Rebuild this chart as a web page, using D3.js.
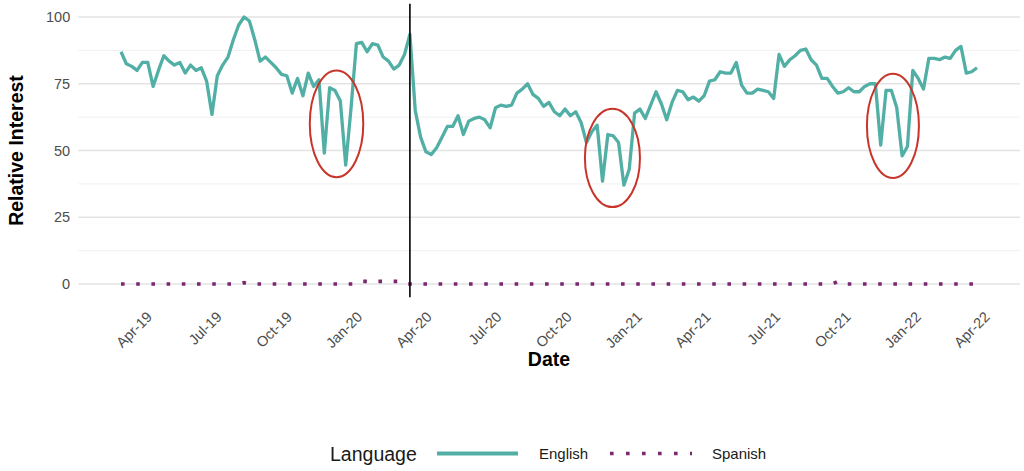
<!DOCTYPE html>
<html>
<head>
<meta charset="utf-8">
<script src="https://cdn.jsdelivr.net/npm/d3@7"></script>
<style>
  html, body { margin: 0; padding: 0; background: #fff; }
  svg { display: block; font-family: "Liberation Sans", Arial, sans-serif; }
</style>
</head>
<body>
<svg id="chart" width="1024" height="471"></svg>
<script>
// ---------------- data ----------------
const weekStart = "2019-03-03";
const weekEnd = "2022-03-27";

const english = [
  87, 82.5, 81.5, 80, 83, 83, 74, 80, 85.5, 83.5,
  82, 83, 79, 82, 80, 81, 76, 63.5, 78, 82,
  85, 91.5, 97, 100, 98.5, 91.5, 83.5, 85, 83, 81,
  78.5, 78, 71.5, 77, 70.5, 79, 74, 76.5, 49, 73.5,
  72.5, 68.5, 44.5, 66, 90, 90.5, 87, 90, 89.5, 85,
  83.5, 80.5, 82, 86, 93.5, 65, 55, 49.5, 48.5, 51,
  55, 59, 59, 63, 56, 61, 62, 62.5, 61.5, 58.5,
  66, 67, 66.5, 67, 71.5, 73, 75, 71, 69.5, 66.5,
  68, 64.5, 63, 65.5, 63, 64.5, 60.5, 53, 57, 59.5,
  38.5, 56, 55.5, 53, 37, 43, 64, 65.5, 62, 67,
  72, 67.5, 61.5, 68, 72.5, 72, 69, 70, 68.5, 70.5,
  76, 76.5, 79.5, 79, 79, 83, 74.5, 71.5, 71.5, 73,
  72.5, 72, 69.5, 86, 81.5, 84, 85.5, 87.5, 88, 84,
  82, 77, 77, 74, 71.5, 72, 73.5, 72, 72, 74,
  75, 75, 52, 72.5, 72.5, 66, 48, 51.5, 80, 77,
  73, 84.5, 84.5, 84, 85, 84.5, 87.5, 89, 79, 79.5,
  81
];

const spanish = [
  0, 0, 0, 0, 0, 0, 0, 0, 0, 0,
  0, 0, 0, 0, 0, 0, 0, 0, 0, 0,
  0, 0, 0, 0.5, 0, 0, 0, 0, 0, 0,
  0, 0, 0, 0, 0, 0, 0, 0, 0, 0,
  0, 0, 0, 0, 0, 1, 1, 1, 1, 1,
  1, 1, 1, 0, 0, 0, 0, 0, 0, 0,
  0, 0, 0, 0, 0, 0, 0, 0, 0, 0,
  0, 0, 0, 0, 0, 0, 0, 0, 0, 0,
  0, 0, 0, 0, 0, 0, 0, 0, 0, 0,
  0, 0, 0, 0, 0, 0, 0, 0, 0, 0,
  0, 0, 0, 0, 0, 0, 0, 0, 0, 0,
  0, 0, 0, 0, 0, 0, 0, 0, 0, 0,
  0, 0, 0, 0, 0, 0, 0, 0, 0, 0,
  0, 0, 0, 0, 1, 0, 0, 0, 0, 0,
  0, 0, 0, 0, 0, 0, 0, 0, 0, 0,
  0, 0, 0, 0, 0, 0, 0, 0, 0, 0,
  0
];

const seriesNames = ["English", "Spanish"];
const yTicks = [0, 25, 50, 75, 100];
const yMinorTicks = [12.5, 37.5, 62.5, 87.5];
const xTickDates = ["2019-04-01","2019-07-01","2019-10-01","2020-01-01","2020-04-01",
  "2020-07-01","2020-10-01","2021-01-01","2021-04-01","2021-07-01","2021-10-01",
  "2022-01-01","2022-04-01"];
const eventDate = "2020-03-15";

// highlighted holiday dips (center date, center value, half-width in days, half-height in value)
const ellipseDates = ["2019-12-10", "2020-12-05", "2021-12-07"];
const ellipseValues = [60, 47.2, 59.2];
const ellipseHalfDays = [35, 36, 34.5];
const ellipseHalfValues = [20, 18.4, 19.5];

// ---------------- drawing ----------------
const parse = d3.utcParse("%Y-%m-%d");
const dates = d3.utcWeek.range(parse(weekStart), d3.utcDay.offset(parse(weekEnd), 1));

const svg = d3.select("#chart");
const teal = "#52AFA5", purple = "#7A2870", red = "#C8352B";

const x = d3.scaleUtc().domain([parse(weekStart), parse(weekEnd)]).range([121, 977]);
const panelLeft = 78.2, panelRight = 1019.8;
const y = d3.scaleLinear().domain([-5, 105]).range([297.35, 3.65]);

// grid
svg.append("g").selectAll("line").data(yMinorTicks).join("line")
  .attr("x1", panelLeft).attr("x2", panelRight)
  .attr("y1", d => y(d)).attr("y2", d => y(d))
  .attr("stroke", "#f0f0f0").attr("stroke-width", 1);
svg.append("g").selectAll("line").data(yTicks).join("line")
  .attr("x1", panelLeft).attr("x2", panelRight)
  .attr("y1", d => y(d)).attr("y2", d => y(d))
  .attr("stroke", "#e3e3e3").attr("stroke-width", 1.6);

// y axis
const yAxis = d3.axisLeft(y).tickValues(yTicks).tickSize(0).tickPadding(8);
const gy = svg.append("g").attr("transform", `translate(${panelLeft},0)`).call(yAxis);
gy.select(".domain").remove();
gy.selectAll("text").attr("font-size", "14.5px").attr("fill", "#4d4d4d")
  .attr("font-family", "Liberation Sans, Arial, sans-serif").attr("x", -8);

// x axis
const xAxis = d3.axisBottom(x).tickValues(xTickDates.map(parse))
  .tickFormat(d3.utcFormat("%b-%y")).tickSize(0);
const gx = svg.append("g").attr("transform", `translate(0,${y(-5)})`).call(xAxis);
gx.select(".domain").remove();
gx.selectAll("text")
  .attr("font-size", "14.5px").attr("fill", "#4d4d4d")
  .attr("font-family", "Liberation Sans, Arial, sans-serif")
  .attr("text-anchor", "end")
  .attr("y", 0).attr("dy", "0.72em")
  .attr("transform", "translate(2,13) rotate(-45)");

// lines
const lineGen = d3.line().x((d, i) => x(dates[i])).y(d => y(d));
svg.append("path").datum(english).attr("d", lineGen)
  .attr("fill", "none").attr("stroke", teal).attr("stroke-width", 3.3)
  .attr("stroke-linejoin", "round");
svg.append("path").datum(spanish).attr("d", lineGen)
  .attr("fill", "none").attr("stroke", purple).attr("stroke-width", 3.6)
  .attr("stroke-dasharray", "3.6 11.6");

// event line
svg.append("line")
  .attr("x1", x(parse(eventDate))).attr("x2", x(parse(eventDate)))
  .attr("y1", y(105)).attr("y2", y(-5))
  .attr("stroke", "#000").attr("stroke-width", 1.6);

// ellipses
svg.append("g").selectAll("ellipse").data(ellipseDates).join("ellipse")
  .attr("cx", d => x(parse(d)))
  .attr("cy", (d, i) => y(ellipseValues[i]))
  .attr("rx", (d, i) => x(d3.utcDay.offset(parse(d), ellipseHalfDays[i])) - x(parse(d)))
  .attr("ry", (d, i) => y(0) - y(ellipseHalfValues[i]))
  .attr("fill", "none").attr("stroke", red).attr("stroke-width", 2);

// axis titles
svg.append("text").attr("x", (panelLeft + panelRight) / 2).attr("y", 366)
  .attr("text-anchor", "middle").attr("font-size", "19.5px").attr("font-weight", "bold")
  .attr("fill", "#000").text("Date");
svg.append("text").attr("transform", `translate(23,${(y(0) + y(100)) / 2}) rotate(-90)`)
  .attr("text-anchor", "middle").attr("font-size", "19.5px").attr("font-weight", "bold")
  .attr("fill", "#000").text("Relative Interest");

// legend
const lg = svg.append("g");
lg.append("text").attr("x", 330).attr("y", 461).attr("font-size", "19.5px")
  .attr("fill", "#1a1a1a").text("Language");
lg.append("line").attr("x1", 437).attr("x2", 518).attr("y1", 453.5).attr("y2", 453.5)
  .attr("stroke", teal).attr("stroke-width", 4);
lg.append("text").attr("x", 539).attr("y", 459).attr("font-size", "15px")
  .attr("fill", "#1a1a1a").text(seriesNames[0]);
lg.append("line").attr("x1", 610).attr("x2", 692).attr("y1", 453.5).attr("y2", 453.5)
  .attr("stroke", purple).attr("stroke-width", 3.6).attr("stroke-dasharray", "3.6 12.4");
lg.append("text").attr("x", 712).attr("y", 459).attr("font-size", "15px")
  .attr("fill", "#1a1a1a").text(seriesNames[1]);
</script>
</body>
</html>
